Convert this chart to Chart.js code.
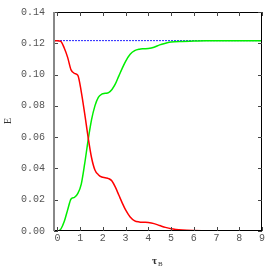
<!DOCTYPE html>
<html>
<head>
<meta charset="utf-8">
<script src="https://cdn.jsdelivr.net/npm/chart.js@4.4.1/dist/chart.umd.min.js"></script>
<style>
  body { margin: 0; background: #fff; }
  canvas { display: block; }
</style>
</head>
<body>
<canvas id="myCanvas" width="271" height="270"></canvas>
<script>
// values
const tau = [-0.15, 0, 0.15, 0.3, 0.45, 0.6, 0.75, 0.9, 1.05, 1.2, 1.35, 1.5, 1.65, 1.8, 1.95,
    2.1, 2.25, 2.4, 2.55, 2.7, 2.85, 3.0, 3.2, 3.4, 3.6, 3.8, 4.0, 4.25, 4.5, 4.75, 5.0,
    5.5, 6, 6.5, 7, 7.5, 8, 8.5, 9];
const redE = [0.1217, 0.1217, 0.1212, 0.117, 0.111, 0.103, 0.1008, 0.0995, 0.089, 0.075, 0.060,
    0.047, 0.039, 0.036, 0.0345, 0.034, 0.0335, 0.032, 0.028, 0.023, 0.018, 0.0135, 0.009,
    0.0065, 0.0058, 0.0056, 0.0054, 0.0047, 0.0035, 0.0023, 0.0014, 0.0006, 0.0003, 0.0002,
    0.0001, 0.0001, 0, 0, 0];
const greenE = [0, 0, 0.0012, 0.006, 0.0135, 0.0205, 0.0215, 0.024, 0.030, 0.043, 0.058, 0.071,
    0.080, 0.0855, 0.0875, 0.088, 0.0885, 0.0905, 0.094, 0.099, 0.104, 0.1085, 0.113, 0.1153,
    0.1162, 0.1165, 0.1167, 0.1175, 0.119, 0.120, 0.1208, 0.1212, 0.1214, 0.1216, 0.1217,
    0.1217, 0.1217, 0.1217, 0.1217];
const totalE = 0.1217;
const xTicks = [0, 1, 2, 3, 4, 5, 6, 7, 8, 9];
const yTicks = [0, 0.02, 0.04, 0.06, 0.08, 0.10, 0.12, 0.14];

const pts = (ys) => tau.map((t, i) => ({ x: t, y: ys[i] }));

// gnuplot-like frame, inward ticks and axis titles
const framePlugin = {
    id: 'frame',
    afterDraw(chart) {
        const c = chart.ctx;
        const a = chart.chartArea;
        const xs = chart.scales.x, ys = chart.scales.y;
        c.save();
        c.lineWidth = 1;
        c.strokeStyle = '#000';
        c.beginPath();
        c.moveTo(a.left, a.top + 0.5); c.lineTo(a.right, a.top + 0.5);
        c.moveTo(a.right - 0.5, a.top); c.lineTo(a.right - 0.5, a.bottom);
        c.moveTo(a.left, a.bottom - 0.5); c.lineTo(a.right, a.bottom - 0.5);
        c.stroke();
        c.strokeStyle = '#444';
        c.beginPath();
        xTicks.forEach(v => {
            const px = Math.round(xs.getPixelForValue(v)) + 0.5;
            c.moveTo(px, a.bottom); c.lineTo(px, a.bottom - 4);
            c.moveTo(px, a.top); c.lineTo(px, a.top + 4);
        });
        yTicks.forEach(v => {
            const py = Math.round(ys.getPixelForValue(v)) + 0.5;
            c.moveTo(a.left, py); c.lineTo(a.left + 4, py);
            c.moveTo(a.right, py); c.lineTo(a.right - 4, py);
        });
        c.stroke();
        c.strokeStyle = '#888';
        c.lineWidth = 2;
        c.beginPath();
        c.moveTo(a.left, a.top); c.lineTo(a.left, a.bottom);
        c.stroke();

        c.fillStyle = '#333';
        c.font = '10px "Liberation Serif"';
        c.textAlign = 'center';
        c.textBaseline = 'middle';
        c.save();
        c.translate(8, 121);
        c.rotate(-Math.PI / 2);
        c.fillText('E', 0, 0);
        c.restore();
        c.font = 'bold 11px "Liberation Serif"';
        c.textAlign = 'left';
        c.fillText('τ', 152, 261);
        c.font = '7px "Liberation Serif"';
        c.fillText('B', 158, 264);
        c.restore();
    }
};

new Chart(document.getElementById('myCanvas'), {
    type: 'line',
    data: {
        datasets: [
            { data: pts(redE), borderColor: '#ff0000', borderWidth: 1.5, pointRadius: 0,
              cubicInterpolationMode: 'monotone' },
            { data: pts(greenE), borderColor: '#00ee00', borderWidth: 1.5, pointRadius: 0,
              cubicInterpolationMode: 'monotone' },
            { data: [{ x: tau[0], y: totalE }, { x: tau[tau.length - 1], y: totalE }],
              borderColor: '#2222ff', borderWidth: 1, borderDash: [2, 1], pointRadius: 0 },
        ],
    },
    options: {
        responsive: false,
        animation: false,
        layout: { padding: { left: 0, right: 9, top: 12, bottom: 0 } },
        plugins: { legend: { display: false }, tooltip: { enabled: false } },
        scales: {
            x: {
                type: 'linear',
                min: -0.15,
                max: 9,
                grid: { display: false, drawTicks: false },
                border: { display: false },
                afterBuildTicks: (s) => { s.ticks = xTicks.map(v => ({ value: v })); },
                afterFit: (s) => { s.height = 39; s.paddingLeft = 0; s.paddingRight = 0; },
                ticks: {
                    color: '#555',
                    font: { family: 'Liberation Mono', size: 10 },
                    padding: 1,
                    maxRotation: 0,
                    callback: (v) => String(v),
                },
            },
            y: {
                min: 0,
                max: 0.14,
                grid: { display: false, drawTicks: false },
                border: { display: false },
                afterBuildTicks: (s) => { s.ticks = yTicks.map(v => ({ value: v })); },
                afterFit: (s) => { s.width = 54; s.paddingTop = 0; s.paddingBottom = 0; },
                ticks: {
                    color: '#555',
                    font: { family: 'Liberation Mono', size: 10 },
                    padding: 9,
                    callback: (v) => v.toFixed(2),
                },
            },
        },
    },
    plugins: [framePlugin],
});
</script>
</body>
</html>
